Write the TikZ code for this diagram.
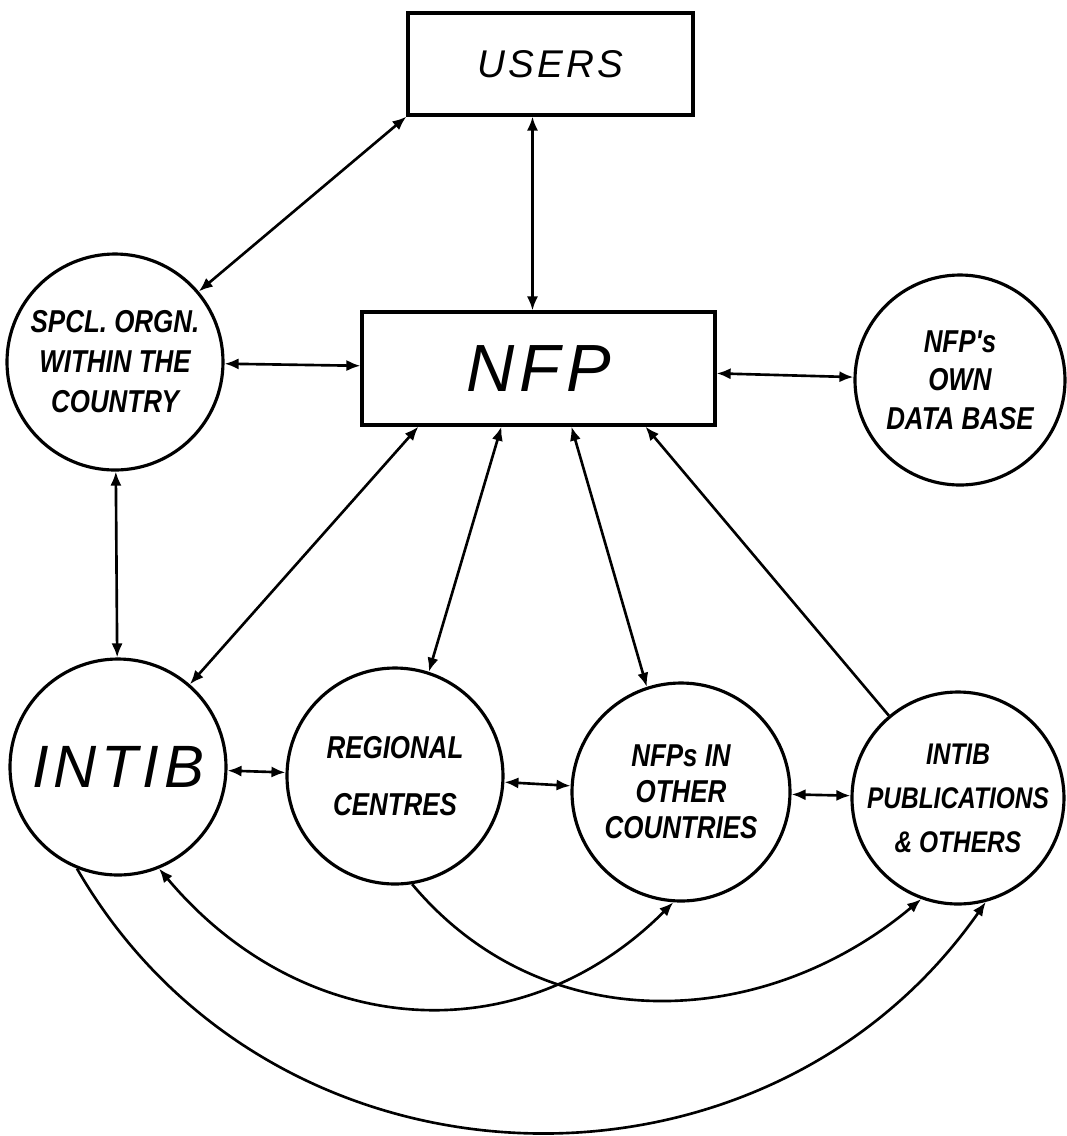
\documentclass[tikz,border=0pt]{standalone}
\usepackage{fontspec}
\newfontfamily\hand{Liberation Sans}[FakeStretch=0.82]
\newfontfamily\handw{Liberation Sans}[LetterSpace=8]
\usetikzlibrary{arrows.meta}
\tikzstyle{bl}=[circle,draw=black,line width=0.9pt,minimum size=2.16cm,inner sep=0pt,align=center,font=\hand\bfseries\itshape\fontsize{9}{11}\selectfont]
\tikzstyle{bx}=[rectangle,draw=black,line width=0.9pt,inner sep=0pt]
\tikzstyle{lk}=[line width=0.75pt,{Latex[length=4pt,width=3.2pt]}-{Latex[length=4pt,width=3.2pt]}]
\tikzstyle{ln}=[line width=0.75pt,-{Latex[length=4pt,width=3.2pt]}]

\begin{document}
\begin{tikzpicture}
	\useasboundingbox (0,0) rectangle (10.67,-11.36);
	\node[bx,minimum width=2.85cm,minimum height=1.02cm,font=\handw\itshape\fontsize{11}{13}\selectfont] (users) at (5.505,-0.64) {USERS};
	\node[bx,minimum width=3.53cm,minimum height=1.13cm,font=\handw\itshape\fontsize{19}{22}\selectfont] (nfp) at (5.385,-3.685) {NFP};
	\node[bl,font=\hand\bfseries\itshape\fontsize{9}{11.4}\selectfont] (spcl) at (1.15,-3.62) {SPCL. ORGN.\\WITHIN THE\\COUNTRY};
	\node[bl,minimum size=2.1cm] (db) at (9.60,-3.80) {NFP's\\OWN\\DATA BASE};
	\node[bl,font=\handw\itshape\fontsize{17}{20}\selectfont] (intib) at (1.18,-7.67) {INTIB};
	\node[bl,font=\hand\bfseries\itshape\fontsize{9}{16}\selectfont] (regional) at (3.95,-7.76) {REGIONAL\\CENTRES};
	\node[bl,minimum size=2.18cm,font=\hand\bfseries\itshape\fontsize{9}{10.2}\selectfont] (others) at (6.81,-7.92) {NFPs IN\\OTHER\\COUNTRIES};
	\node[bl,minimum size=2.12cm,font=\hand\bfseries\itshape\fontsize{8.5}{12.5}\selectfont] (pubs) at (9.58,-7.98) {INTIB\\PUBLICATIONS\\\& OTHERS};
	% top part
	\draw[lk] (users.south west) -- (spcl);
	\draw[lk] ([xshift=-1.8mm]users.south) -- ([xshift=-1.8mm]users.south |- nfp.north);
	\draw[lk] (spcl) -- (nfp);
	\draw[lk] (nfp) -- (db);
	\draw[lk] (spcl) -- (intib);
	% from NFP down
	\draw[lk] ([xshift=5.8mm]nfp.south west) -- (intib.49);
	\draw[lk] ([xshift=14.1mm]nfp.south west) -- (regional.72);
	\draw[lk] ([xshift=21.1mm]nfp.south west) -- (others.108);
	\draw[ln] (pubs.130) -- ([xshift=28.5mm]nfp.south west);
	\foreach \a/\b in {intib/regional,regional/others,others/pubs}
	\draw[lk] (\a) -- (\b);
	% curves below
	\draw[ln] (intib.248) .. controls +(-60:3.9) and +(-125:3.9) .. (pubs.285);
	\draw[ln] (regional.279) .. controls +(-50:2.05) and +(-140:2.05) .. (pubs.250);
	\draw[lk] (intib.292) .. controls +(-50:2.2) and +(-135:2.2) .. (others.266);
\end{tikzpicture}
\end{document}
